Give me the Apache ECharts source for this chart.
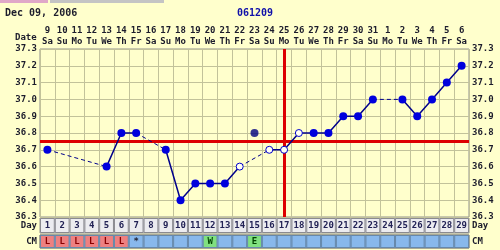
<!DOCTYPE html>
<html><head><meta charset="utf-8">
<script src="https://cdn.jsdelivr.net/npm/echarts@6/dist/echarts.min.js"></script>
<style>html,body{margin:0;padding:0;background:#FFFFCC;}#c{width:500px;height:250px;}</style>
</head><body><div id="c"></div><script>
const chartDate = 'Dec 09, 2006';
const chartId = '061209';
const dateLabels = ['9','10','11','12','13','14','15','16','17','18','19','20','21','22','23','24','25','26','27','28','29','30','31','1','2','3','4','5','6'];
const weekdayLabels = ['Sa','Su','Mo','Tu','We','Th','Fr','Sa','Su','Mo','Tu','We','Th','Fr','Sa','Su','Mo','Tu','We','Th','Fr','Sa','Su','Mo','Tu','We','Th','Fr','Sa'];
const cycleDays = ['1','2','3','4','5','6','7','8','9','10','11','12','13','14','15','16','17','18','19','20','21','22','23','24','25','26','27','28','29'];
const temps = [36.7,null,null,null,36.6,36.8,36.8,null,36.7,36.4,36.5,36.5,36.5,36.6,null,36.7,36.7,36.8,36.8,36.8,36.9,36.9,37.0,null,37.0,36.9,37.0,37.1,37.2];
const openCircleDays = [14,16,17,18];
const discardedTemps = [null,null,null,null,null,null,null,null,null,null,null,null,null,null,36.8,null,null,null,null,null,null,null,null,null,null,null,null,null,null];
const cmCodes = ['L','L','L','L','L','L','*','','','','','W','','','E','','','','','','','','','','','','','',''];
const coverline = 36.75;
const ovulationDay = '17';
const yMin = 36.3, yMax = 37.3, yStep = 0.1;

const FONT = 'DejaVu Sans Mono';
const txt = {fontFamily: FONT, fontWeight: 'bold', fontSize: 9, color: '#1C1C2C'};
const gridLine = '#C2C29A';
const cmColors = {'L': '#EE8080', 'W': '#80E080', 'E': '#80E080'};
const cmTextColors = {'L': '#880000', 'W': '#004400', 'E': '#004400', '*': '#222233'};

const chart = echarts.init(document.getElementById('c'), null, {renderer: 'canvas'});

const dashedSeries = [];
let prev = -1;
temps.forEach((t, i) => {
  if (t == null) return;
  if (prev >= 0 && i - prev > 1) {
    const d = cycleDays.map(() => null);
    d[prev] = temps[prev]; d[i] = t;
    dashedSeries.push({type: 'line', xAxisIndex: 0, yAxisIndex: 0, data: d, connectNulls: true,
      showSymbol: false, silent: true, z: 3,
      lineStyle: {type: [4, 3], width: 1, color: '#00008B'}});
  }
  prev = i;
});

const mainData = temps.map((t, i) => t == null ? null :
  (openCircleDays.includes(i + 1)
    ? {value: t, symbolSize: 7, itemStyle: {color: '#FFFFF4', borderColor: '#0000CC', borderWidth: 1}}
    : {value: t}));

const option = {
  animation: false,
  backgroundColor: '#FFFFCC',
  title: [
    {text: chartDate, left: 5, top: 8, padding: 0, textStyle: {fontFamily: FONT, fontWeight: 'bold', fontSize: 10, color: '#1C1C2C'}},
    {text: chartId, left: 237, top: 8, padding: 0, textStyle: {fontFamily: FONT, fontWeight: 'bold', fontSize: 10, color: '#1010AA'}},
    {text: 'Date', left: 15, top: 33, padding: 0, textStyle: txt}
  ],
  graphic: [
    {type: 'rect', shape: {x: 0, y: 0, width: 48, height: 3}, style: {fill: '#E0A8C8'}, silent: true},
    {type: 'rect', shape: {x: 50, y: 0, width: 114, height: 3}, style: {fill: '#C4C4C4'}, silent: true}
  ],
  grid: [
    {left: 40, right: 31, top: 49, height: 168, show: true, backgroundColor: '#FFFFCC', borderColor: '#909090', borderWidth: 1},
    {left: 40, right: 31, top: 218, height: 15, show: true, backgroundColor: '#E8E8EE', borderColor: '#909090', borderWidth: 1},
    {left: 40, right: 31, top: 235, height: 13, show: true, backgroundColor: '#88B8EC', borderColor: '#505060', borderWidth: 1}
  ],
  xAxis: [
    {gridIndex: 0, type: 'category', data: cycleDays, position: 'top', boundaryGap: true,
      axisLine: {show: false}, axisTick: {show: false},
      axisLabel: Object.assign({}, txt, {interval: 0, margin: 2, lineHeight: 11,
        formatter: (v, i) => dateLabels[i] + '\n' + weekdayLabels[i]}),
      splitLine: {show: true, lineStyle: {color: gridLine, width: 1}}},
    {gridIndex: 1, type: 'category', data: cycleDays, boundaryGap: true, show: false},
    {gridIndex: 2, type: 'category', data: cycleDays, boundaryGap: true, show: false}
  ],
  yAxis: [
    {gridIndex: 0, type: 'value', min: yMin, max: yMax, interval: yStep, position: 'left',
      axisLine: {show: false}, axisTick: {show: false},
      axisLabel: Object.assign({}, txt, {margin: 3, formatter: v => v.toFixed(1)}),
      splitLine: {show: true, lineStyle: {color: gridLine, width: 1}}},
    {gridIndex: 0, type: 'value', min: yMin, max: yMax, interval: yStep, position: 'right',
      axisLine: {show: false}, axisTick: {show: false},
      axisLabel: Object.assign({}, txt, {margin: 3, formatter: v => v.toFixed(1)}),
      splitLine: {show: false}},
    {gridIndex: 1, type: 'value', min: 0, max: 1, show: false},
    {gridIndex: 1, type: 'category', data: ['Day'], position: 'left', axisLine: {show: false}, axisTick: {show: false}, axisLabel: Object.assign({}, txt, {margin: 3})},
    {gridIndex: 1, type: 'category', data: ['Day'], position: 'right', axisLine: {show: false}, axisTick: {show: false}, axisLabel: Object.assign({}, txt, {margin: 3})},
    {gridIndex: 2, type: 'value', min: 0, max: 1, show: false},
    {gridIndex: 2, type: 'category', data: ['CM'], position: 'left', axisLine: {show: false}, axisTick: {show: false}, axisLabel: Object.assign({}, txt, {margin: 3})},
    {gridIndex: 2, type: 'category', data: ['CM'], position: 'right', axisLine: {show: false}, axisTick: {show: false}, axisLabel: Object.assign({}, txt, {margin: 3})}
  ],
  series: [
    ...dashedSeries,
    {type: 'line', name: 'BBT', xAxisIndex: 0, yAxisIndex: 0, data: mainData, connectNulls: false,
      symbol: 'circle', symbolSize: 8, showAllSymbol: true, z: 4,
      itemStyle: {color: '#0000DD'},
      lineStyle: {color: '#00008B', width: 1.5},
      markLine: {silent: true, symbol: ['none', 'none'], label: {show: false}, z: 2,
        lineStyle: {color: '#DD0000', width: 3, type: 'solid'},
        data: [{yAxis: coverline}, {xAxis: ovulationDay}]}},
    {type: 'scatter', name: 'Discarded', xAxisIndex: 0, yAxisIndex: 0, data: discardedTemps,
      symbol: 'circle', symbolSize: 8, itemStyle: {color: '#000080'}, z: 4},
    {type: 'bar', xAxisIndex: 1, yAxisIndex: 2, data: cycleDays.map(() => 1), barWidth: '100%', silent: true,
      itemStyle: {color: '#ECECF0', borderColor: '#8A8A90', borderWidth: 1},
      label: Object.assign({show: true, position: 'inside', formatter: p => cycleDays[p.dataIndex]}, txt, {color: '#222255'})},
    {type: 'bar', xAxisIndex: 2, yAxisIndex: 5, barWidth: '100%', silent: true,
      data: cmCodes.map(c => ({value: 1, itemStyle: {color: cmColors[c] || '#88B8EC'}})),
      itemStyle: {borderColor: '#6688AA', borderWidth: 1},
      label: {show: true, position: 'inside', fontFamily: FONT, fontWeight: 'bold', fontSize: 9,
        formatter: p => cmCodes[p.dataIndex],
        color: '#222233'}}
  ]
};
option.series[option.series.length - 1].data.forEach((d, i) => {
  d.label = {color: cmTextColors[cmCodes[i]] || '#222233'};
});
chart.setOption(option);
</script></body></html>
